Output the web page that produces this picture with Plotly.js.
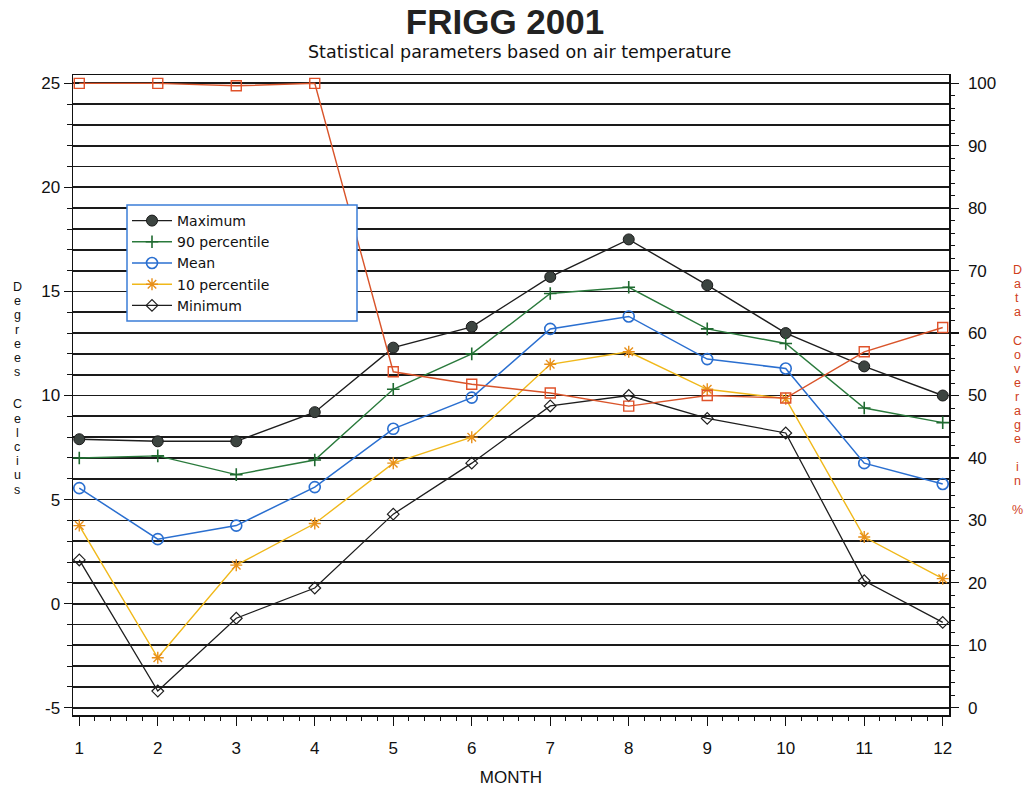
<!DOCTYPE html>
<html>
<head>
<meta charset="utf-8">
<script src="https://cdn.plot.ly/plotly-3.0.1.min.js"></script>
<style>
  html, body { margin: 0; padding: 0; background: #fff; }
  #chart { width: 1029px; height: 789px; }
</style>
</head>
<body>
<div id="chart"></div>
<script>
// ---- data ----
const months = [1, 2, 3, 4, 5, 6, 7, 8, 9, 10, 11, 12];
const maximum = [7.9, 7.8, 7.8, 9.2, 12.3, 13.3, 15.7, 17.5, 15.3, 13.0, 11.4, 10.0];
const p90     = [7.0, 7.1, 6.2, 6.9, 10.3, 12.0, 14.9, 15.2, 13.2, 12.5, 9.4, 8.7];
const mean    = [5.55, 3.1, 3.75, 5.6, 8.4, 9.9, 13.2, 13.8, 11.75, 11.3, 6.75, 5.75];
const p10     = [3.75, -2.6, 1.85, 3.85, 6.75, 8.0, 11.5, 12.1, 10.3, 9.85, 3.2, 1.2];
const minimum = [2.1, -4.2, -0.7, 0.75, 4.3, 6.75, 9.5, 10.0, 8.9, 8.2, 1.1, -0.9];
const coverage = [100, 100, 99.6, 100, 53.8, 51.8, 50.4, 48.3, 50.0, 49.6, 57.0, 60.9];

const seriesNames = ['Maximum', '90 percentile', 'Mean', '10 percentile', 'Minimum'];
const tempTicks = [-5, 0, 5, 10, 15, 20, 25];
const tempTickText = ['-5', '0', '5', '10', '15', '20', '25'];
const covTicks = [0, 10, 20, 30, 40, 50, 60, 70, 80, 90, 100];
const covTickText = ['0', '10', '20', '30', '40', '50', '60', '70', '80', '90', '100'];
const monthTickText = ['1', '2', '3', '4', '5', '6', '7', '8', '9', '10', '11', '12'];

const titleText = 'FRIGG 2001';
const subtitleText = 'Statistical parameters based on air temperature';
const xTitleText = 'MONTH';
const leftTitle = 'Degrees Celcius';
const rightTitle = 'Data Coverage in %';

// ---- layout geometry ----
const W = 1029, H = 789;
const M = { l: 73, r: 80, t: 75, b: 74 };
const PW = W - M.l - M.r, PH = H - M.t - M.b;
const px2x = px => (px - M.l) / PW;
const px2y = py => 1 - (py - M.t) / PH;

const tRange = [-5.35, 25.4];
const cRange = tRange.map(t => (t + 5) / 30 * 100);

const FONT = 'Liberation Sans, Arial, sans-serif';
const WIDE = 'DejaVu Sans, sans-serif';

const traces = [
  {
    name: seriesNames[0], x: months, y: maximum, type: 'scatter', mode: 'lines+markers',
    line: { color: '#1e1e1e', width: 1.4 },
    marker: { symbol: 'circle', size: 11, color: '#3c4440', line: { color: '#1a1a1a', width: 1 } }
  },
  {
    name: seriesNames[1], x: months, y: p90, type: 'scatter', mode: 'lines+markers',
    line: { color: '#2a7a3c', width: 1.4 },
    marker: { symbol: 'cross-thin-open', size: 9, color: '#1f6a30', line: { color: '#1f6a30', width: 1.6 } }
  },
  {
    name: seriesNames[2], x: months, y: mean, type: 'scatter', mode: 'lines+markers',
    line: { color: '#2a6fd0', width: 1.5 },
    marker: { symbol: 'circle-open', size: 11, color: '#2a6fd0', line: { color: '#2a6fd0', width: 1.6 } }
  },
  {
    name: seriesNames[3], x: months, y: p10, type: 'scatter', mode: 'lines+markers',
    line: { color: '#f0b81a', width: 1.4 },
    marker: { symbol: 'asterisk-open', size: 10, color: '#e8901a', line: { color: '#e8901a', width: 1.4 } }
  },
  {
    name: seriesNames[4], x: months, y: minimum, type: 'scatter', mode: 'lines+markers',
    line: { color: '#1e1e1e', width: 1.3 },
    marker: { symbol: 'diamond-open', size: 9, color: '#1e1e1e', line: { color: '#1e1e1e', width: 1.2 } }
  },
  {
    name: 'Data coverage', x: months, y: coverage, yaxis: 'y2', type: 'scatter', mode: 'lines+markers',
    showlegend: false,
    line: { color: '#d9542a', width: 1.4 },
    marker: { symbol: 'square-open', size: 10, color: '#e0522a', line: { color: '#e0522a', width: 1.4 } }
  }
];

// stacked vertical letters for the axis titles
const annotations = [];
function stacked(str, xpx, y0, step, spaceExtra, color) {
  let y = y0;
  for (const ch of str) {
    if (ch === ' ') { y += spaceExtra; continue; }
    annotations.push({
      text: ch, xref: 'paper', yref: 'paper', x: px2x(xpx), y: px2y(y),
      xanchor: 'center', yanchor: 'middle', showarrow: false, borderpad: 0,
      font: { family: FONT, size: 12.5, color: color }
    });
    y += step;
  }
}
stacked(leftTitle, 17, 287, 14.2, 18, '#111');
stacked(rightTitle, 1017, 270, 14.0, 14.5, '#d0401c');

annotations.push({
  text: subtitleText, xref: 'paper', yref: 'paper', x: px2x(519), y: px2y(52),
  xanchor: 'center', yanchor: 'middle', showarrow: false,
  font: { family: WIDE, size: 17.5, color: '#111' }
});

// legend frame (wider than Plotly's own legend box)
const legTop = 205, legBottom = 321, legLeft = 127, legRight = 357;
const shapes = [{
  type: 'rect', xref: 'paper', yref: 'paper', layer: 'above',
  x0: px2x(legLeft), x1: px2x(legRight), y0: px2y(legBottom), y1: px2y(legTop),
  fillcolor: '#ffffff', line: { color: '#3b7dd8', width: 1.5 }
}];

const layout = {
  width: W, height: H,
  margin: M,
  paper_bgcolor: '#fff', plot_bgcolor: '#fff',
  font: { family: FONT, color: '#111', size: 17 },
  title: {
    text: '<b>' + titleText + '</b>',
    font: { family: FONT, size: 35, color: '#222' },
    xref: 'paper', x: px2x(505), xanchor: 'center',
    yref: 'container', y: 1 - 22 / H, yanchor: 'middle'
  },
  showlegend: true,
  legend: {
    x: px2x(legLeft), y: px2y(legTop), xanchor: 'left', yanchor: 'top',
    bgcolor: 'rgba(0,0,0,0)', borderwidth: 0,
    font: { family: WIDE, size: 14, color: '#111' },
    itemwidth: 40, tracegroupgap: 0
  },
  shapes: shapes,
  xaxis: {
    range: [0.92, 12.08],
    tickmode: 'array', tickvals: months, ticktext: monthTickText,
    ticks: 'outside', ticklen: 9, tickwidth: 1.3, tickcolor: '#111',
    ticklabelstandoff: 8,
    minor: { dtick: 0.2, tick0: 0, ticks: 'outside', ticklen: 4, tickwidth: 1, tickcolor: '#111', showgrid: false },
    showline: true, linecolor: '#111', linewidth: 1.5, mirror: true,
    showgrid: false, zeroline: false,
    tickfont: { family: FONT, size: 17, color: '#111' },
    title: { text: xTitleText, font: { family: FONT, size: 17, color: '#111' }, standoff: 14 }
  },
  yaxis: {
    range: tRange,
    tickmode: 'array', tickvals: tempTicks, ticktext: tempTickText,
    ticks: 'outside', ticklen: 8, tickwidth: 1.3, tickcolor: '#111',
    showgrid: true, gridcolor: '#1a1a1a', gridwidth: 1.8,
    minor: { dtick: 1, tick0: 0, ticks: 'outside', ticklen: 5, tickwidth: 1, tickcolor: '#111',
             showgrid: true, gridcolor: '#1a1a1a', gridwidth: 1.8 },
    showline: true, linecolor: '#111', linewidth: 1.5,
    zeroline: false,
    tickfont: { family: FONT, size: 17, color: '#111' }
  },
  yaxis3: {
    range: tRange, overlaying: 'y', side: 'left', anchor: 'x',
    dtick: 0.5, tick0: 0, ticks: 'outside', ticklen: 3, tickwidth: 1, tickcolor: '#111',
    showticklabels: false, showgrid: false, zeroline: false, showline: false
  },
  yaxis2: {
    range: cRange, overlaying: 'y', side: 'right', anchor: 'x',
    tickmode: 'array', tickvals: covTicks, ticktext: covTickText,
    ticks: 'outside', ticklen: 8, tickwidth: 1.3, tickcolor: '#111',
    ticklabelstandoff: 6,
    minor: { dtick: 2, tick0: 0, ticks: 'outside', ticklen: 4, tickwidth: 1, tickcolor: '#111', showgrid: false },
    showline: true, linecolor: '#111', linewidth: 1.5,
    showgrid: false, zeroline: false,
    tickfont: { family: FONT, size: 17, color: '#111' }
  },
  annotations: annotations
};

Plotly.newPlot('chart', traces, layout, { displayModeBar: false, staticPlot: true });
</script>
</body>
</html>
